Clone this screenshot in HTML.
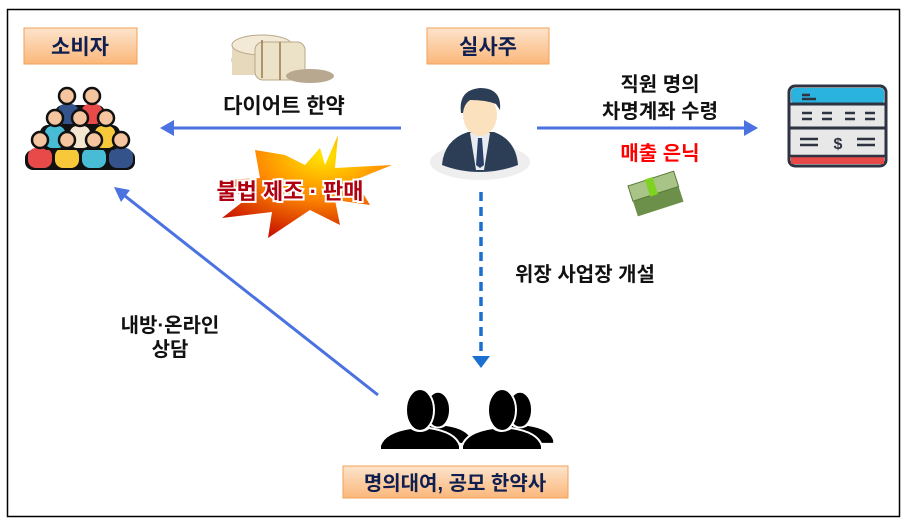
<!DOCTYPE html>
<html><head><meta charset="utf-8"><style>
body{margin:0;background:#fff;width:910px;height:528px;overflow:hidden}
svg{display:block}
text{font-family:"Liberation Sans","Noto Sans CJK KR",sans-serif;font-weight:bold}
</style></head><body>
<svg width="910" height="528" viewBox="0 0 910 528" xmlns="http://www.w3.org/2000/svg">
<defs>
<linearGradient id="og" x1="0" y1="0" x2="0" y2="1"><stop offset="0" stop-color="#fde4cc"/><stop offset="1" stop-color="#fbb77a"/></linearGradient>
<radialGradient id="burst" cx="0.6" cy="0.2" r="0.9"><stop offset="0" stop-color="#ffe600"/><stop offset="0.45" stop-color="#ff8a00"/><stop offset="1" stop-color="#c00000"/></radialGradient>
<g id="person"><ellipse cx="0" cy="-38" rx="14" ry="21"/><path d="M-9,-20 Q-36,-16 -40,-2 L-40,2 L40,2 L40,-2 Q36,-16 9,-20 Q0,-14 -9,-20z"/></g>
</defs>
<rect x="7.5" y="9.5" width="892" height="507" fill="#fff" stroke="#000" stroke-width="1.5"/>
<rect x="24" y="28" width="113" height="36" fill="url(#og)" stroke="#f2a05a" stroke-width="1"/>
<text x="80" y="54" font-size="21" fill="#0f1f50" text-anchor="middle">소비자</text>
<rect x="427" y="28" width="122" height="36" fill="url(#og)" stroke="#f2a05a" stroke-width="1"/>
<text x="488" y="54" font-size="21" fill="#0f1f50" text-anchor="middle">실사주</text>
<rect x="343" y="466" width="225" height="32" fill="url(#og)" stroke="#f2a05a" stroke-width="1"/>
<text x="455" y="490" font-size="20" fill="#0f1f50" text-anchor="middle">명의대여, 공모 한약사</text>
<line x1="401" y1="128" x2="172" y2="128" stroke="#4a72e0" stroke-width="3"/>
<path d="M160,128 L174,120 L174,136 z" fill="#4a72e0"/>
<line x1="537" y1="128" x2="745" y2="128" stroke="#4a72e0" stroke-width="3"/>
<path d="M758,128 L744,120 L744,136 z" fill="#4a72e0"/>
<line x1="378" y1="395" x2="125" y2="196" stroke="#4a72e0" stroke-width="3"/>
<path d="M114,187 L130,190 L121,202 z" fill="#4a72e0"/>
<line x1="481" y1="192" x2="481" y2="356" stroke="#1a6fd0" stroke-width="3.5" stroke-dasharray="9,6"/>
<path d="M472,356 L490,356 L481,368 z" fill="#1a6fd0"/>
<text x="284" y="113" font-size="21" fill="#111" text-anchor="middle">다이어트  한약</text>
<text x="660" y="91" font-size="20" fill="#111" text-anchor="middle">직원 명의</text>
<text x="660" y="118" font-size="20" fill="#111" text-anchor="middle">차명계좌 수령</text>
<text x="660" y="160" font-size="20" fill="#ff0000" text-anchor="middle">매출 은닉</text>
<text x="585" y="281" font-size="20" fill="#111" text-anchor="middle">위장 사업장 개설</text>
<text x="170" y="332" font-size="20" fill="#111" text-anchor="middle">내방·온라인</text>
<text x="170" y="356" font-size="20" fill="#111" text-anchor="middle">상담</text>
<path d="M285,155 L305,165 L320,148 L325,165 L338,135 L335,168 L392,165 L355,180 L370,205 L335,200 L340,225 L310,210 L268,238 L272,212 L222,218 L245,200 L225,180 L260,178 L255,150 z" fill="url(#burst)"/>
<text x="290" y="199" font-size="22" fill="#b00010" stroke="#fff" stroke-width="4" paint-order="stroke" text-anchor="middle">불법 제조 · 판매</text>
<g>
<ellipse cx="262" cy="60" rx="30" ry="14" fill="#e8dcc0" stroke="#b8a888"/>
<rect x="232" y="45" width="60" height="30" fill="#e6d9bc"/>
<ellipse cx="262" cy="45" rx="30" ry="10" fill="#f2ead6" stroke="#b8a888"/>
<rect x="255" y="42" width="50" height="38" rx="8" fill="#ece2c8" stroke="#b8a888"/>
<ellipse cx="310" cy="76" rx="24" ry="7" fill="#b9a890"/>
<line x1="262" y1="40" x2="262" y2="78" stroke="#9a7a50" stroke-width="1.5"/>
<line x1="280" y1="42" x2="280" y2="80" stroke="#9a7a50" stroke-width="1.5"/>
</g>
<g>
<rect x="25" y="150" width="110" height="20" rx="8" fill="#111"/>
<rect x="28" y="148" width="24" height="20" rx="8" fill="#e84a4a"/>
<rect x="55" y="148" width="24" height="20" rx="8" fill="#f7c93a"/>
<rect x="82" y="148" width="24" height="20" rx="8" fill="#47bcd4"/>
<rect x="109" y="148" width="24" height="20" rx="8" fill="#34538a"/>
<rect x="40" y="125" width="80" height="25" rx="8" fill="#111"/>
<rect x="45" y="126" width="20" height="22" rx="7" fill="#47bcd4"/>
<rect x="70" y="126" width="20" height="22" rx="7" fill="#f5e6d2"/>
<rect x="95" y="126" width="20" height="22" rx="7" fill="#f7c93a"/>
<rect x="55" y="105" width="50" height="20" rx="8" fill="#111"/>
<rect x="58" y="104" width="20" height="20" rx="7" fill="#34538a"/>
<rect x="82" y="104" width="20" height="20" rx="7" fill="#e84a4a"/>
<g fill="#f5c5a0" stroke="#111" stroke-width="2.5">
<circle cx="67" cy="96" r="8"/><circle cx="92" cy="96" r="8"/>
<circle cx="55" cy="118" r="8"/><circle cx="80" cy="118" r="8"/><circle cx="106" cy="118" r="8"/>
<circle cx="40" cy="140" r="8"/><circle cx="67" cy="140" r="8"/><circle cx="94" cy="140" r="8"/><circle cx="121" cy="140" r="8"/>
</g>
</g>
<g>
<ellipse cx="480" cy="162" rx="50" ry="18" fill="#eeeeef"/>
<ellipse cx="480" cy="160" rx="35" ry="11" fill="#dcdcde"/>
<path d="M442,165 Q444,140 468,132 L494,132 Q516,140 518,165 Q500,172 480,172 Q460,172 442,165z" fill="#2c3e55"/>
<path d="M470,133 L490,133 L484,170 L476,170z" fill="#e8ecf0"/>
<path d="M478,138 L482,138 L484,165 L480,168 L476,165z" fill="#2a3f66"/>
<ellipse cx="480" cy="115" rx="17" ry="21" fill="#fbe1be"/>
<path d="M461,113 Q458,90 480,88 Q502,88 500,110 L496,104 Q486,100 470,100 Q464,104 463,113z" fill="#2c3e55"/>
</g>
<g transform="translate(628,186) rotate(-18)">
<rect x="0" y="12" width="48" height="20" fill="#6c8f4a"/>
<rect x="0" y="0" width="48" height="16" fill="#a9c487" stroke="#5a7a3a"/>
<rect x="18" y="-1" width="8" height="18" fill="#7ed321"/>
</g>
<g>
<rect x="789" y="86" width="97" height="80" rx="6" fill="#e8e8e8" stroke="#2d3340" stroke-width="3"/>
<rect x="791" y="88" width="93" height="16" rx="4" fill="#2bb3e0"/>
<line x1="789" y1="104" x2="886" y2="104" stroke="#2d3340" stroke-width="3"/>
<line x1="789" y1="128" x2="886" y2="128" stroke="#2d3340" stroke-width="3"/>
<rect x="791" y="156" width="93" height="8" fill="#e84a4a"/>
<line x1="789" y1="156" x2="886" y2="156" stroke="#2d3340" stroke-width="2.5"/>
<g stroke="#2d3340" stroke-width="2.5">
<line x1="802" y1="113" x2="812" y2="113"/><line x1="822" y1="113" x2="832" y2="113"/><line x1="845" y1="113" x2="855" y2="113"/><line x1="865" y1="113" x2="875" y2="113"/>
<line x1="802" y1="119" x2="812" y2="119"/><line x1="822" y1="119" x2="832" y2="119"/><line x1="845" y1="119" x2="855" y2="119"/><line x1="865" y1="119" x2="875" y2="119"/>
<line x1="800" y1="139" x2="818" y2="139"/><line x1="800" y1="145" x2="818" y2="145"/>
<line x1="857" y1="139" x2="875" y2="139"/><line x1="857" y1="145" x2="875" y2="145"/>
<line x1="802" y1="95" x2="810" y2="95"/><line x1="802" y1="99" x2="816" y2="99"/>
</g>
<text x="838" y="149" font-size="16" fill="#2d3340" text-anchor="middle">$</text>
</g>
<g fill="#000" stroke="#fff" stroke-width="2">
<use href="#person" transform="translate(438,442) scale(0.85)"/>
<use href="#person" transform="translate(420,448)"/>
<use href="#person" transform="translate(520,442) scale(0.85)"/>
<use href="#person" transform="translate(502,448)"/>
</g>
</svg>
</body></html>
